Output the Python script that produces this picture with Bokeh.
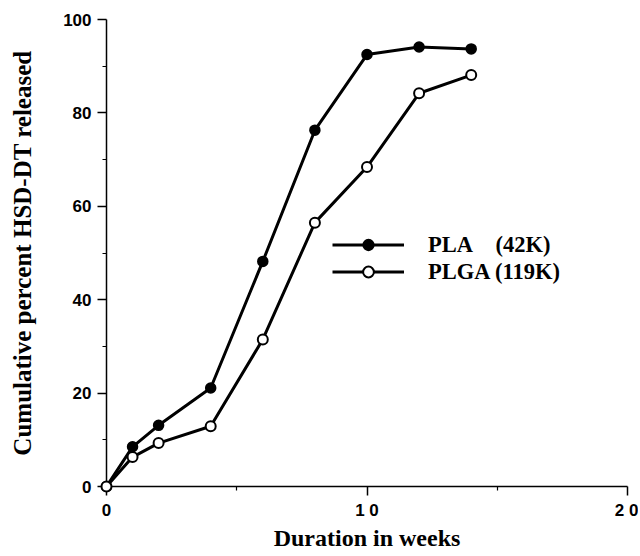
from bokeh.plotting import figure
from bokeh.models import Range1d, FixedTicker, Legend, LegendItem
from bokeh.embed import file_html
from bokeh.resources import INLINE

# ---- data ----
weeks = [0, 1, 2, 4, 6, 8, 10, 12, 14]
pla_42k = [0, 8.5, 13.1, 21.1, 48.2, 76.3, 92.5, 94.1, 93.7]
plga_119k = [0, 6.3, 9.3, 12.9, 31.5, 56.5, 68.4, 84.2, 88.1]
x_major = [0, 10, 20]
x_minor = [5, 15]
y_major = [0, 20, 40, 60, 80, 100]
y_minor = [10, 30, 50, 70, 90]
x_tick_labels = {0: "0", 10: "1 0", 20: "2 0"}
legend_labels = ["PLA\u00a0\u00a0\u00a0\u00a0(42K)", "PLGA (119K)"]
x_title = "Duration in weeks"
y_title = "Cumulative percent HSD-DT released"

SERIF = "Liberation Serif"
SANS = "Liberation Sans"

p = figure(width=638, height=554,
           x_range=Range1d(0, 20), y_range=Range1d(0, 100),
           output_backend="svg", toolbar_location=None,
           min_border_left=106, min_border_right=11, min_border_top=19,
           min_border_bottom=68)
p.xgrid.visible = False
p.ygrid.visible = False
p.outline_line_color = None
p.background_fill_color = "white"
p.border_fill_color = "white"

for ax, major, minor in ((p.xaxis[0], x_major, x_minor),
                         (p.yaxis[0], y_major, y_minor)):
    ax.ticker = FixedTicker(ticks=major, minor_ticks=minor)
    ax.axis_line_width = 1.5
    ax.axis_line_color = "black"
    ax.major_tick_line_width = 1.5
    ax.major_tick_line_color = "black"
    ax.minor_tick_line_width = 1.2
    ax.minor_tick_line_color = "black"
    ax.major_tick_out = 9
    ax.major_tick_in = 0
    ax.minor_tick_out = 4
    ax.minor_tick_in = 0
    ax.major_label_text_font = SANS
    ax.major_label_text_font_style = "bold"
    ax.major_label_text_font_size = "17px"
    ax.major_label_text_color = "black"
    ax.axis_label_text_font = SERIF
    ax.axis_label_text_font_style = "bold"
    ax.axis_label_text_color = "black"

p.xaxis[0].major_label_overrides = x_tick_labels
p.xaxis[0].axis_label = x_title
p.xaxis[0].axis_label_text_font_size = "24px"
p.xaxis[0].major_label_standoff = 5
p.xaxis[0].axis_label_standoff = 2
p.yaxis[0].axis_label = y_title
p.yaxis[0].axis_label_text_font_size = "25px"
p.yaxis[0].major_label_standoff = 6
p.yaxis[0].axis_label_standoff = 24

l1 = p.line(weeks, pla_42k, line_width=3, line_color="black")
l2 = p.line(weeks, plga_119k, line_width=3, line_color="black")
s1 = p.scatter(weeks, pla_42k, marker="circle", size=10,
               fill_color="black", line_color="black", line_width=1.5,
               level="overlay")
s2 = p.scatter(weeks, plga_119k, marker="circle", size=10,
               fill_color="white", line_color="black", line_width=2,
               level="overlay")

legend = Legend(items=[LegendItem(label=legend_labels[0], renderers=[l1, s1]),
                       LegendItem(label=legend_labels[1], renderers=[l2, s2])],
                location=(226, 201), glyph_width=72, glyph_height=27,
                spacing=0, padding=0, margin=0, label_standoff=24,
                label_text_font=SERIF, label_text_font_style="bold",
                label_text_font_size="22.5px", label_text_color="black",
                border_line_color=None, background_fill_alpha=0)
p.add_layout(legend)

open("out.html", "w").write(file_html(p, INLINE))
